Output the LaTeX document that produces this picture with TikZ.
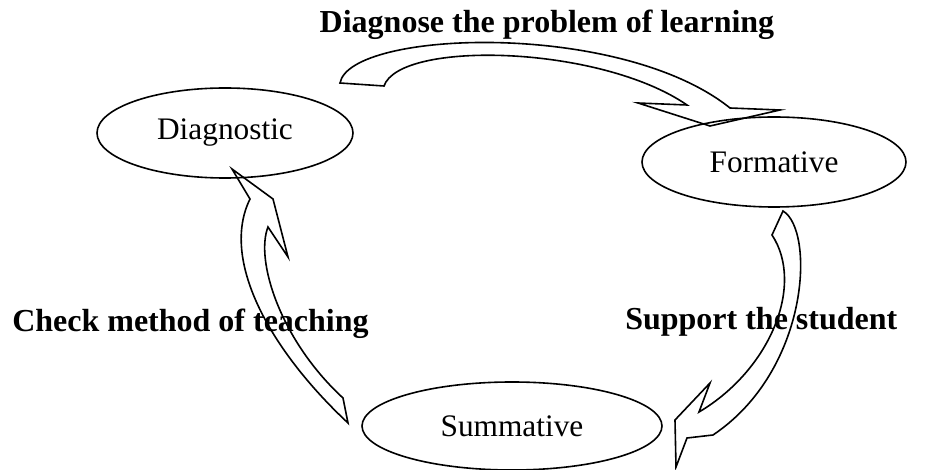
\documentclass[tikz,border=0pt]{standalone}
\usepackage{fontspec}
\setmainfont{Liberation Serif}
\usetikzlibrary{shapes}
\tikzstyle{stage} = [ellipse, draw, line width=1.2pt, inner sep=0pt,
    font=\fontsize{23.5}{28}\selectfont]
\tikzstyle{caption} = [inner sep=0pt, font=\fontsize{24}{29}\selectfont\bfseries]
\tikzstyle{bentarrow} = [draw, line width=1.2pt, line join=miter]

\begin{document}
\begin{tikzpicture}[x=0.75pt, y=-0.75pt]
		\useasboundingbox (0,0) rectangle (929,470);
		% draw the three stages first
		\node [stage, minimum width=192pt, minimum height=67.5pt] (diag) at (225,133) {Diagnostic};
		\node [stage, minimum width=198pt, minimum height=67.5pt] (form) at (774,162) {Formative};
		\node [stage, minimum width=225pt, minimum height=66pt] (summ) at (512,426) {Summative};
	
		% draw the captions of the arrows
		\node [caption, anchor=base] (diagnose) at (547,33) {Diagnose the problem of learning};
		\node [caption, anchor=base west] (check) at (12,332) {Check method of teaching};
		\node [caption, anchor=base west] (support) at (625,330) {Support the student};
	
		% draw the curved block arrows between the stages
		\draw [bentarrow] (340,83) .. controls (350,30) and (620,20) .. (730,108)
			-- (780,110) -- (710,126) -- (638,103) -- (687,105)
			.. controls (600,45) and (400,40) .. (384,86) -- cycle;
		\draw [bentarrow] (783,211) .. controls (815,230) and (810,370) .. (713,435)
			-- (687,438) -- (676,467) -- (675,420) -- (710,383) -- (699,412)
			.. controls (770,370) and (805,285) .. (772,235) -- cycle;
		\draw [bentarrow] (348,423) .. controls (270,350) and (220,260) .. (250,199)
			-- (232,169) -- (273,199) -- (288,257) -- (268,227)
			.. controls (255,260) and (280,340) .. (343,398) -- cycle;
	\end{tikzpicture}
\end{document}
